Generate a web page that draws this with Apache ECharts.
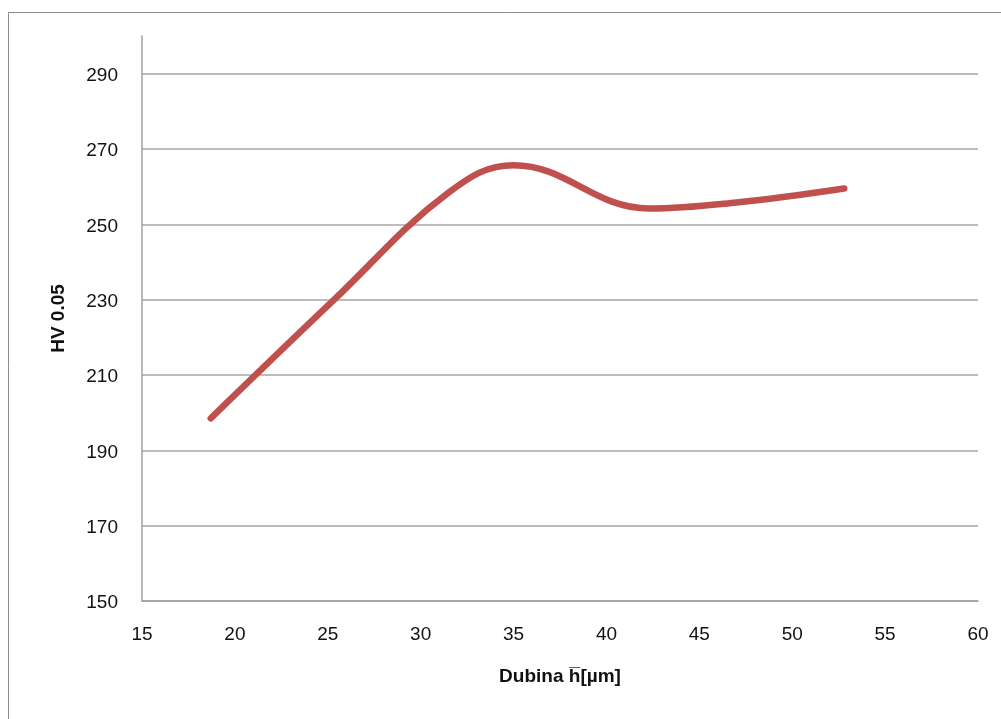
<!DOCTYPE html>
<html>
<head>
<meta charset="utf-8">
<script src="https://cdn.jsdelivr.net/npm/echarts@6/dist/echarts.min.js"></script>
<style>
  html, body { margin: 0; padding: 0; background: #ffffff; }
  #chart { width: 1001px; height: 719px; }
</style>
</head>
<body>
<div id="chart"></div>
<script>
// Data
const depthX = [18.7, 25.3, 31.5, 35.0, 42.3, 47.0, 52.8];
const hardnessY = [198.5, 229.8, 258.4, 265.7, 254.2, 255.8, 259.5];
const xTickLabels = ['15', '20', '25', '30', '35', '40', '45', '50', '55', '60'];
const yTickLabels = ['150', '170', '190', '210', '230', '250', '270', '290'];
const xAxisTitle = 'Dubina h\u0305[\u00b5m]';
const yAxisTitle = 'HV 0.05';

const points = depthX.map((x, i) => [x, hardnessY[i]]);

const chart = echarts.init(document.getElementById('chart'), null, { renderer: 'canvas' });
const fontFam = 'Liberation Sans, Arial, sans-serif';
const labelFont = { fontFamily: fontFam, fontSize: 19, color: '#111111' };
const gridColors = yTickLabels.map(() => '#a6a6a6').concat(['rgba(0,0,0,0)']);

chart.setOption({
  backgroundColor: '#ffffff',
  animation: false,
  graphic: [{
    type: 'rect',
    shape: { x: 8.5, y: 12.5, width: 1100, height: 800 },
    style: { fill: 'none', stroke: '#8c8c8c', lineWidth: 1 },
    silent: true,
    z: -10
  }],
  grid: { left: 142, right: 23, top: 36, bottom: 118, containLabel: false },
  xAxis: {
    type: 'value',
    min: 15, max: 60, interval: 5,
    name: xAxisTitle,
    nameLocation: 'middle',
    nameGap: 66,
    nameTextStyle: { fontFamily: fontFam, fontSize: 19, fontWeight: 'bold', color: '#111111' },
    axisLine: { show: true, onZero: false, lineStyle: { color: '#a0a0a0', width: 1.5 } },
    axisTick: { show: false },
    splitLine: { show: false },
    axisLabel: Object.assign({ margin: 24, formatter: v => xTickLabels.includes(String(v)) ? String(v) : '' }, labelFont)
  },
  yAxis: {
    type: 'value',
    min: 150, max: 300, interval: 20,
    name: yAxisTitle,
    nameLocation: 'middle',
    nameGap: 74,
    nameRotate: 90,
    nameTextStyle: { fontFamily: fontFam, fontSize: 19, fontWeight: 'bold', color: '#111111' },
    axisLine: { show: true, lineStyle: { color: '#a0a0a0', width: 1.5 } },
    axisTick: { show: false },
    splitLine: { show: true, lineStyle: { color: gridColors, width: 1.5 } },
    axisLabel: Object.assign({
      margin: 24,
      showMaxLabel: false,
      formatter: v => yTickLabels.includes(String(v)) ? '{t|' + v + '}' : '',
      rich: { t: { fontFamily: fontFam, fontSize: 19, color: '#111111', padding: [4, 0, 0, 0] } }
    }, labelFont)
  },
  series: [{
    type: 'line',
    data: points,
    smooth: 0.4,
    showSymbol: false,
    symbol: 'none',
    lineStyle: { color: '#c0504d', width: 6.5, cap: 'round', join: 'round' },
    itemStyle: { color: '#c0504d' }
  }]
});
</script>
</body>
</html>
